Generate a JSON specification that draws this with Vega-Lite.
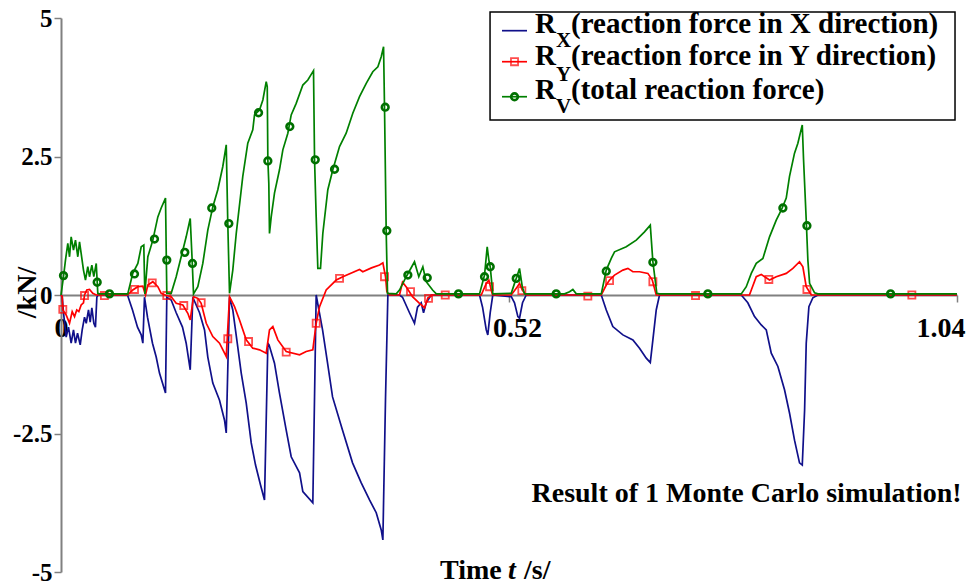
{
"$schema": "https://vega.github.io/schema/vega-lite/v6.json",
"width": 896, "height": 554,
"autosize": {"type": "none"},
"padding": {"left": 61, "top": 18, "right": 12, "bottom": 12},
"background": "white",
"config": {"view": {"stroke": null}, "font": "Liberation Serif"},
"data": {"values": [{}]},
"datasets": {
"rx": [{"t":0,"v":0},{"t":0.0014,"v":-0.03},{"t":0.0029,"v":-0.32},{"t":0.006,"v":-0.76},{"t":0.0087,"v":-0.58},{"t":0.0118,"v":-0.87},{"t":0.0145,"v":-0.63},{"t":0.0168,"v":-0.87},{"t":0.0192,"v":-0.69},{"t":0.0223,"v":-0.9},{"t":0.0246,"v":-0.63},{"t":0.0273,"v":-0.4},{"t":0.0293,"v":-0.51},{"t":0.0319,"v":-0.27},{"t":0.0339,"v":-0.49},{"t":0.0358,"v":-0.23},{"t":0.0381,"v":-0.51},{"t":0.04,"v":-0.58},{"t":0.0416,"v":-0.04},{"t":0.043,"v":0},{"t":0.0772,"v":0},{"t":0.083,"v":-0.27},{"t":0.0888,"v":-0.58},{"t":0.0931,"v":-0.72},{"t":0.095,"v":-0.87},{"t":0.0969,"v":-0.04},{"t":0.1004,"v":-0.4},{"t":0.1062,"v":-0.87},{"t":0.1105,"v":-1.12},{"t":0.1143,"v":-1.41},{"t":0.1178,"v":-1.59},{"t":0.1213,"v":-1.77},{"t":0.1228,"v":-0.04},{"t":0.1279,"v":-0.09},{"t":0.1337,"v":-0.32},{"t":0.141,"v":-0.58},{"t":0.1453,"v":-0.87},{"t":0.15,"v":-1.35},{"t":0.153,"v":-0.04},{"t":0.1608,"v":-0.32},{"t":0.1666,"v":-0.63},{"t":0.1704,"v":-1.12},{"t":0.1762,"v":-1.59},{"t":0.184,"v":-1.9},{"t":0.1898,"v":-2.26},{"t":0.1918,"v":-2.49},{"t":0.1956,"v":-0.04},{"t":0.1994,"v":-0.27},{"t":0.2052,"v":-0.94},{"t":0.2092,"v":-1.41},{"t":0.215,"v":-1.95},{"t":0.2208,"v":-2.67},{"t":0.2258,"v":-3.07},{"t":0.2316,"v":-3.43},{"t":0.2362,"v":-3.7},{"t":0.2401,"v":-0.87},{"t":0.2415,"v":-0.9},{"t":0.2478,"v":-1.23},{"t":0.2536,"v":-1.77},{"t":0.2614,"v":-2.44},{"t":0.2672,"v":-2.92},{"t":0.2769,"v":-3.21},{"t":0.2807,"v":-3.55},{"t":0.2923,"v":-3.75},{"t":0.2962,"v":0},{"t":0.2978,"v":-0.14},{"t":0.3036,"v":-0.63},{"t":0.3094,"v":-1.23},{"t":0.3152,"v":-1.84},{"t":0.3268,"v":-2.44},{"t":0.3384,"v":-3.03},{"t":0.3485,"v":-3.39},{"t":0.3581,"v":-3.7},{"t":0.3659,"v":-3.93},{"t":0.3717,"v":-4.24},{"t":0.3736,"v":-4.42},{"t":0.3767,"v":-1.84},{"t":0.3794,"v":0},{"t":0.3929,"v":0},{"t":0.3964,"v":-0.04},{"t":0.4045,"v":-0.32},{"t":0.4103,"v":-0.51},{"t":0.4138,"v":-0.22},{"t":0.4181,"v":-0.14},{"t":0.4208,"v":-0.32},{"t":0.4239,"v":-0.14},{"t":0.4297,"v":0},{"t":0.4858,"v":0},{"t":0.4893,"v":-0.22},{"t":0.4936,"v":-0.63},{"t":0.4954,"v":-0.72},{"t":0.4982,"v":-0.32},{"t":0.5012,"v":0},{"t":0.5226,"v":-0.03},{"t":0.5264,"v":-0.14},{"t":0.5303,"v":-0.39},{"t":0.5322,"v":-0.42},{"t":0.5357,"v":-0.14},{"t":0.54,"v":0},{"t":0.6271,"v":0},{"t":0.6329,"v":-0.27},{"t":0.6405,"v":-0.57},{"t":0.6522,"v":-0.72},{"t":0.6638,"v":-0.81},{"t":0.6715,"v":-0.96},{"t":0.6793,"v":-1.14},{"t":0.684,"v":-1.22},{"t":0.687,"v":-0.81},{"t":0.6909,"v":-0.27},{"t":0.6947,"v":0},{"t":0.7896,"v":0},{"t":0.7972,"v":-0.14},{"t":0.805,"v":-0.39},{"t":0.8128,"v":-0.54},{"t":0.8186,"v":-0.63},{"t":0.8244,"v":-1.05},{"t":0.8321,"v":-1.29},{"t":0.8398,"v":-1.71},{"t":0.8456,"v":-2.13},{"t":0.8514,"v":-2.62},{"t":0.8572,"v":-3.03},{"t":0.8604,"v":-3.07},{"t":0.8631,"v":-2.08},{"t":0.865,"v":-0.87},{"t":0.8681,"v":-0.21},{"t":0.8727,"v":-0.05},{"t":0.8785,"v":0},{"t":1.04,"v":0}],
"ry": [{"t":0,"v":0},{"t":0.0014,"v":-0.03},{"t":0.0021,"v":-0.27},{"t":0.006,"v":-0.36},{"t":0.0099,"v":-0.51},{"t":0.013,"v":-0.3},{"t":0.0157,"v":-0.39},{"t":0.0183,"v":-0.27},{"t":0.0207,"v":-0.3},{"t":0.0234,"v":-0.18},{"t":0.0261,"v":-0.14},{"t":0.0273,"v":0},{"t":0.0299,"v":0.09},{"t":0.0331,"v":0.1},{"t":0.0369,"v":0.03},{"t":0.0409,"v":0},{"t":0.0772,"v":0},{"t":0.0833,"v":0.09},{"t":0.0892,"v":0.15},{"t":0.095,"v":0.16},{"t":0.0981,"v":0},{"t":0.1008,"v":0.18},{"t":0.1066,"v":0.24},{"t":0.1124,"v":0.15},{"t":0.1163,"v":0.03},{"t":0.1221,"v":-0.01},{"t":0.1279,"v":-0.03},{"t":0.1337,"v":-0.15},{"t":0.1414,"v":-0.18},{"t":0.1472,"v":-0.33},{"t":0.15,"v":-0.45},{"t":0.1538,"v":-0.03},{"t":0.1588,"v":-0.06},{"t":0.1627,"v":-0.15},{"t":0.1686,"v":-0.51},{"t":0.1762,"v":-0.75},{"t":0.184,"v":-0.87},{"t":0.1918,"v":-1.11},{"t":0.1956,"v":-0.03},{"t":0.2014,"v":-0.21},{"t":0.2072,"v":-0.45},{"t":0.215,"v":-0.81},{"t":0.2226,"v":-0.96},{"t":0.2304,"v":-0.99},{"t":0.2382,"v":-1.05},{"t":0.242,"v":-0.63},{"t":0.2459,"v":-0.57},{"t":0.2517,"v":-0.81},{"t":0.2614,"v":-1.02},{"t":0.2769,"v":-1.08},{"t":0.2846,"v":-1.02},{"t":0.2923,"v":-0.99},{"t":0.2962,"v":-0.51},{"t":0.3001,"v":-0.21},{"t":0.3078,"v":0.09},{"t":0.3195,"v":0.27},{"t":0.3271,"v":0.33},{"t":0.3465,"v":0.46},{"t":0.3503,"v":0.42},{"t":0.3604,"v":0.49},{"t":0.3697,"v":0.54},{"t":0.3736,"v":0.58},{"t":0.3767,"v":0.33},{"t":0.3782,"v":0.06},{"t":0.3813,"v":0},{"t":0.3929,"v":0},{"t":0.3964,"v":0.23},{"t":0.401,"v":0.14},{"t":0.408,"v":-0.03},{"t":0.4161,"v":-0.15},{"t":0.422,"v":-0.23},{"t":0.4258,"v":-0.05},{"t":0.4313,"v":0},{"t":0.4878,"v":0},{"t":0.4936,"v":0.21},{"t":0.4966,"v":0.27},{"t":0.4994,"v":0.09},{"t":0.5009,"v":0},{"t":0.5226,"v":0},{"t":0.5284,"v":0.12},{"t":0.5322,"v":0.21},{"t":0.5354,"v":0.09},{"t":0.54,"v":0},{"t":0.6271,"v":0},{"t":0.6329,"v":0.18},{"t":0.6367,"v":0.27},{"t":0.6425,"v":0.36},{"t":0.6522,"v":0.45},{"t":0.658,"v":0.48},{"t":0.6638,"v":0.42},{"t":0.6715,"v":0.42},{"t":0.6812,"v":0.39},{"t":0.6863,"v":0.27},{"t":0.6909,"v":0},{"t":0.7991,"v":0},{"t":0.807,"v":0.33},{"t":0.8128,"v":0.37},{"t":0.8224,"v":0.27},{"t":0.8302,"v":0.33},{"t":0.8418,"v":0.39},{"t":0.8495,"v":0.48},{"t":0.8572,"v":0.6},{"t":0.8611,"v":0.51},{"t":0.865,"v":0.15},{"t":0.8709,"v":0},{"t":1.04,"v":0}],
"rv": [{"t":0,"v":0},{"t":0.0029,"v":0.33},{"t":0.0052,"v":0.63},{"t":0.0079,"v":0.93},{"t":0.0099,"v":0.69},{"t":0.0118,"v":1.05},{"t":0.0145,"v":0.81},{"t":0.0168,"v":0.99},{"t":0.0195,"v":0.69},{"t":0.0215,"v":0.96},{"t":0.0234,"v":0.75},{"t":0.0261,"v":0.45},{"t":0.0284,"v":0.27},{"t":0.0311,"v":0.51},{"t":0.0331,"v":0.33},{"t":0.0358,"v":0.54},{"t":0.0381,"v":0.33},{"t":0.0409,"v":0.57},{"t":0.0427,"v":0.03},{"t":0.0447,"v":0.02},{"t":0.0775,"v":0.02},{"t":0.0833,"v":0.39},{"t":0.0892,"v":0.57},{"t":0.0931,"v":0.87},{"t":0.0961,"v":0.9},{"t":0.0973,"v":0.02},{"t":0.1008,"v":0.69},{"t":0.1066,"v":0.99},{"t":0.1124,"v":1.41},{"t":0.1163,"v":1.57},{"t":0.1213,"v":1.75},{"t":0.1228,"v":0.03},{"t":0.1279,"v":0.03},{"t":0.1337,"v":0.33},{"t":0.1395,"v":0.69},{"t":0.1453,"v":1.05},{"t":0.15,"v":1.38},{"t":0.1524,"v":0.57},{"t":0.1538,"v":0.02},{"t":0.1588,"v":0.15},{"t":0.1646,"v":0.57},{"t":0.1704,"v":1.17},{"t":0.1762,"v":1.59},{"t":0.182,"v":1.9},{"t":0.1878,"v":2.32},{"t":0.1918,"v":2.71},{"t":0.1936,"v":1.29},{"t":0.1956,"v":0.03},{"t":0.1994,"v":0.45},{"t":0.2034,"v":1.11},{"t":0.211,"v":2.14},{"t":0.2168,"v":2.74},{"t":0.2226,"v":2.98},{"t":0.2246,"v":3.25},{"t":0.2304,"v":3.34},{"t":0.2343,"v":3.52},{"t":0.2382,"v":3.85},{"t":0.2394,"v":3.76},{"t":0.2401,"v":2.44},{"t":0.2412,"v":2.02},{"t":0.242,"v":1.11},{"t":0.244,"v":1.41},{"t":0.2478,"v":1.84},{"t":0.2536,"v":2.26},{"t":0.2575,"v":2.62},{"t":0.2633,"v":2.92},{"t":0.2672,"v":3.25},{"t":0.273,"v":3.46},{"t":0.2807,"v":3.79},{"t":0.2865,"v":3.88},{"t":0.2931,"v":4.05},{"t":0.2943,"v":2.44},{"t":0.2962,"v":1.41},{"t":0.2981,"v":0.48},{"t":0.3012,"v":0.48},{"t":0.3039,"v":1.11},{"t":0.3097,"v":1.9},{"t":0.3155,"v":2.26},{"t":0.3233,"v":2.68},{"t":0.331,"v":2.92},{"t":0.3387,"v":3.28},{"t":0.3465,"v":3.58},{"t":0.3543,"v":3.82},{"t":0.3619,"v":4.03},{"t":0.3678,"v":4.12},{"t":0.3717,"v":4.3},{"t":0.3744,"v":4.48},{"t":0.3755,"v":3.4},{"t":0.3775,"v":1.11},{"t":0.379,"v":0.03},{"t":0.3891,"v":0.02},{"t":0.3929,"v":0.09},{"t":0.4007,"v":0.33},{"t":0.4103,"v":0.6},{"t":0.4153,"v":0.33},{"t":0.42,"v":0.51},{"t":0.4239,"v":0.24},{"t":0.4313,"v":0.09},{"t":0.4356,"v":0.02},{"t":0.4858,"v":0.02},{"t":0.4916,"v":0.36},{"t":0.4947,"v":0.87},{"t":0.4966,"v":0.63},{"t":0.4982,"v":0.51},{"t":0.5012,"v":0.02},{"t":0.5226,"v":0.03},{"t":0.5264,"v":0.21},{"t":0.5291,"v":0.33},{"t":0.5322,"v":0.48},{"t":0.5354,"v":0.15},{"t":0.538,"v":0.02},{"t":0.5845,"v":0.02},{"t":0.5903,"v":0.06},{"t":0.5941,"v":0.1},{"t":0.5981,"v":0.02},{"t":0.6271,"v":0.02},{"t":0.6329,"v":0.45},{"t":0.6387,"v":0.66},{"t":0.6425,"v":0.78},{"t":0.6561,"v":0.87},{"t":0.6677,"v":0.99},{"t":0.6773,"v":1.14},{"t":0.684,"v":1.26},{"t":0.687,"v":0.6},{"t":0.6916,"v":0.03},{"t":0.6947,"v":0.02},{"t":0.7896,"v":0.02},{"t":0.7954,"v":0.15},{"t":0.8012,"v":0.39},{"t":0.807,"v":0.57},{"t":0.8147,"v":0.66},{"t":0.8224,"v":1.05},{"t":0.8302,"v":1.35},{"t":0.836,"v":1.53},{"t":0.8418,"v":1.75},{"t":0.8456,"v":2.14},{"t":0.8514,"v":2.56},{"t":0.8553,"v":2.74},{"t":0.8604,"v":3.07},{"t":0.8619,"v":2.44},{"t":0.865,"v":1.35},{"t":0.8669,"v":0.63},{"t":0.8689,"v":0.21},{"t":0.8747,"v":0.04},{"t":0.8785,"v":0.02},{"t":1.04,"v":0.02}],
"ry_markers": [{"t":0.0021,"v":-0.26},{"t":0.0273,"v":-0.01},{"t":0.0504,"v":-0.01},{"t":0.0853,"v":0.1},{"t":0.1059,"v":0.22},{"t":0.1228,"v":-0.01},{"t":0.1425,"v":-0.19},{"t":0.1627,"v":-0.14},{"t":0.1936,"v":-0.79},{"t":0.2177,"v":-0.84},{"t":0.2614,"v":-1.03},{"t":0.2962,"v":-0.51},{"t":0.3233,"v":0.3},{"t":0.3755,"v":0.33},{"t":0.4057,"v":0.06},{"t":0.4266,"v":-0.06},{"t":0.446,"v":0},{"t":0.4974,"v":0.15},{"t":0.5349,"v":0.08},{"t":0.6115,"v":-0.02},{"t":0.6367,"v":0.26},{"t":0.687,"v":0.24},{"t":0.7365,"v":-0.01},{"t":0.8216,"v":0.28},{"t":0.8658,"v":0.1},{"t":0.9876,"v":0}],
"rv_markers": [{"t":0.0029,"v":0.35},{"t":0.042,"v":0.23},{"t":0.0563,"v":0.02},{"t":0.0853,"v":0.38},{"t":0.1085,"v":1.01},{"t":0.1228,"v":0.63},{"t":0.1437,"v":0.77},{"t":0.1526,"v":0.57},{"t":0.175,"v":1.57},{"t":0.1948,"v":1.29},{"t":0.2293,"v":3.29},{"t":0.2401,"v":2.42},{"t":0.2656,"v":3.04},{"t":0.2951,"v":2.44},{"t":0.3175,"v":2.27},{"t":0.3763,"v":3.39},{"t":0.3782,"v":1.16},{"t":0.4026,"v":0.36},{"t":0.4251,"v":0.31},{"t":0.4614,"v":0.02},{"t":0.4916,"v":0.33},{"t":0.4982,"v":0.51},{"t":0.5284,"v":0.3},{"t":0.5748,"v":0.02},{"t":0.6329,"v":0.43},{"t":0.687,"v":0.59},{"t":0.7508,"v":0.02},{"t":0.8379,"v":1.57},{"t":0.8658,"v":1.25},{"t":0.9629,"v":0.02}]
},
"layer": [
{"data": {"name": "rx"}, "mark": {"type": "line", "color": "#10108a", "strokeWidth": 1.7},
 "encoding": {
  "x": {"field": "t", "type": "quantitative", "scale": {"domain": [0, 1.04], "nice": false, "zero": false},
   "axis": {"orient": "bottom", "offset": -277, "values": [0, 0.52, 1.04], "labelExpr": "'' + datum.value",
    "domainColor": "#808080", "domainWidth": 2, "tickColor": "#808080", "tickWidth": 1.5, "tickSize": 7,
    "labelFont": "Liberation Serif", "labelFontWeight": "bold", "labelFontSize": 28, "labelColor": "black", "labelPadding": 12,
    "labelAlign": {"condition": {"test": "datum.value > 1", "value": "right"}, "value": "center"},
    "labelOffset": {"condition": {"test": "datum.value > 0.5", "value": 8}, "value": 0},
    "labelOverlap": false, "labelBound": false, "labelFlush": false, "grid": false, "title": null}},
  "y": {"field": "v", "type": "quantitative", "scale": {"domain": [-5, 5], "nice": false, "zero": false},
   "axis": {"orient": "left", "values": [-5, -2.5, 0, 2.5, 5], "labelExpr": "'' + datum.value",
    "domainColor": "#808080", "domainWidth": 2, "tickColor": "#808080", "tickWidth": 1.5, "tickSize": 7,
    "labelFont": "Liberation Serif", "labelFontWeight": "bold", "labelFontSize": 25, "labelColor": "black", "labelPadding": 2,
    "labelOverlap": false, "labelBound": false, "labelFlush": false, "grid": false,
    "title": "/kN/", "titleFont": "Liberation Serif", "titleFontWeight": "bold", "titleFontSize": 28, "titleColor": "black",
    "titleAngle": -90, "titleX": -26, "titleY": 274, "titleBaseline": "alphabetic", "titleAlign": "center"}}
 }},
{"data": {"name": "ry"}, "mark": {"type": "line", "color": "#ff0000", "strokeWidth": 1.7},
 "encoding": {"x": {"field": "t", "type": "quantitative"}, "y": {"field": "v", "type": "quantitative"}}},
{"data": {"name": "ry_markers"}, "mark": {"type": "point", "shape": "square", "filled": false, "color": "#ff0000", "size": 50, "strokeWidth": 1.8},
 "encoding": {"x": {"field": "t", "type": "quantitative"}, "y": {"field": "v", "type": "quantitative"}}},
{"data": {"name": "rv"}, "mark": {"type": "line", "color": "#008000", "strokeWidth": 1.7},
 "encoding": {"x": {"field": "t", "type": "quantitative"}, "y": {"field": "v", "type": "quantitative"}}},
{"data": {"name": "rv_markers"}, "mark": {"type": "point", "shape": "circle", "filled": false, "color": "#007000", "size": 45, "strokeWidth": 2.6, "opacity": 1},
 "encoding": {"x": {"field": "t", "type": "quantitative"}, "y": {"field": "v", "type": "quantitative"}}},
{"mark": {"type": "rect", "fill": "white", "stroke": "black", "strokeWidth": 1.5},
 "encoding": {"x": {"datum": 0.498, "type": "quantitative"}, "x2": {"datum": 1.0377}, "y": {"datum": 5.108, "type": "quantitative"}, "y2": {"datum": 3.159}}},
{"mark": {"type": "rule", "color": "#10108a", "strokeWidth": 1.7},
 "encoding": {"x": {"datum": 0.5119, "type": "quantitative"}, "x2": {"datum": 0.5409}, "y": {"datum": 4.771, "type": "quantitative"}}},
{"mark": {"type": "rule", "color": "#ff0000", "strokeWidth": 1.7},
 "encoding": {"x": {"datum": 0.5119, "type": "quantitative"}, "x2": {"datum": 0.5409}, "y": {"datum": 4.211, "type": "quantitative"}}},
{"mark": {"type": "rule", "color": "#008000", "strokeWidth": 1.7},
 "encoding": {"x": {"datum": 0.5119, "type": "quantitative"}, "x2": {"datum": 0.5409}, "y": {"datum": 3.579, "type": "quantitative"}}},
{"mark": {"type": "point", "shape": "square", "filled": false, "color": "#ff0000", "size": 50, "strokeWidth": 1.8},
 "encoding": {"x": {"datum": 0.5264, "type": "quantitative"}, "y": {"datum": 4.211, "type": "quantitative"}}},
{"mark": {"type": "point", "shape": "circle", "filled": false, "color": "#007000", "size": 45, "strokeWidth": 2.6, "opacity": 1},
 "encoding": {"x": {"datum": 0.5264, "type": "quantitative"}, "y": {"datum": 3.579, "type": "quantitative"}}},
{"mark": {"type": "text", "align": "left", "baseline": "alphabetic", "font": "Liberation Serif", "fontWeight": "bold", "fontSize": 29, "color": "black"},
 "encoding": {"x": {"datum": 0.5502, "type": "quantitative"}, "y": {"datum": 4.724, "type": "quantitative"}, "text": {"value": "R"}}},
{"mark": {"type": "text", "align": "left", "baseline": "alphabetic", "font": "Liberation Serif", "fontWeight": "bold", "fontSize": 29, "color": "black"},
 "encoding": {"x": {"datum": 0.5502, "type": "quantitative"}, "y": {"datum": 4.152, "type": "quantitative"}, "text": {"value": "R"}}},
{"mark": {"type": "text", "align": "left", "baseline": "alphabetic", "font": "Liberation Serif", "fontWeight": "bold", "fontSize": 29, "color": "black"},
 "encoding": {"x": {"datum": 0.5502, "type": "quantitative"}, "y": {"datum": 3.538, "type": "quantitative"}, "text": {"value": "R"}}},
{"mark": {"type": "text", "align": "left", "baseline": "alphabetic", "font": "Liberation Serif", "fontWeight": "bold", "fontSize": 21, "color": "black"},
 "encoding": {"x": {"datum": 0.5746, "type": "quantitative"}, "y": {"datum": 4.482, "type": "quantitative"}, "text": {"value": "X"}}},
{"mark": {"type": "text", "align": "left", "baseline": "alphabetic", "font": "Liberation Serif", "fontWeight": "bold", "fontSize": 21, "color": "black"},
 "encoding": {"x": {"datum": 0.5746, "type": "quantitative"}, "y": {"datum": 3.863, "type": "quantitative"}, "text": {"value": "Y"}}},
{"mark": {"type": "text", "align": "left", "baseline": "alphabetic", "font": "Liberation Serif", "fontWeight": "bold", "fontSize": 21, "color": "black"},
 "encoding": {"x": {"datum": 0.5746, "type": "quantitative"}, "y": {"datum": 3.285, "type": "quantitative"}, "text": {"value": "V"}}},
{"mark": {"type": "text", "align": "left", "baseline": "alphabetic", "font": "Liberation Serif", "fontWeight": "bold", "fontSize": 29, "color": "black"},
 "encoding": {"x": {"datum": 0.592, "type": "quantitative"}, "y": {"datum": 4.724, "type": "quantitative"}, "text": {"value": "(reaction force in X direction)"}}},
{"mark": {"type": "text", "align": "left", "baseline": "alphabetic", "font": "Liberation Serif", "fontWeight": "bold", "fontSize": 29, "color": "black"},
 "encoding": {"x": {"datum": 0.592, "type": "quantitative"}, "y": {"datum": 4.152, "type": "quantitative"}, "text": {"value": "(reaction force in Y direction)"}}},
{"mark": {"type": "text", "align": "left", "baseline": "alphabetic", "font": "Liberation Serif", "fontWeight": "bold", "fontSize": 29, "color": "black"},
 "encoding": {"x": {"datum": 0.592, "type": "quantitative"}, "y": {"datum": 3.538, "type": "quantitative"}, "text": {"value": "(total reaction force)"}}},
{"mark": {"type": "text", "align": "right", "baseline": "alphabetic", "font": "Liberation Serif", "fontWeight": "bold", "fontSize": 28, "color": "black"},
 "encoding": {"x": {"datum": 1.0453, "type": "quantitative"}, "y": {"datum": -3.736, "type": "quantitative"}, "text": {"value": "Result of 1 Monte Carlo simulation!"}}},
{"mark": {"type": "text", "align": "left", "baseline": "alphabetic", "font": "Liberation Serif", "fontWeight": "bold", "fontSize": 28, "color": "black"},
 "encoding": {"x": {"datum": 0.4399, "type": "quantitative"}, "y": {"datum": -5.126, "type": "quantitative"}, "text": {"value": "Time"}}},
{"mark": {"type": "text", "align": "left", "baseline": "alphabetic", "font": "Liberation Serif", "fontWeight": "bold", "fontStyle": "italic", "fontSize": 28, "color": "black"},
 "encoding": {"x": {"datum": 0.5188, "type": "quantitative"}, "y": {"datum": -5.126, "type": "quantitative"}, "text": {"value": "t"}}},
{"mark": {"type": "text", "align": "left", "baseline": "alphabetic", "font": "Liberation Serif", "fontWeight": "bold", "fontSize": 28, "color": "black"},
 "encoding": {"x": {"datum": 0.5375, "type": "quantitative"}, "y": {"datum": -5.126, "type": "quantitative"}, "text": {"value": "/s/"}}}
]
}
